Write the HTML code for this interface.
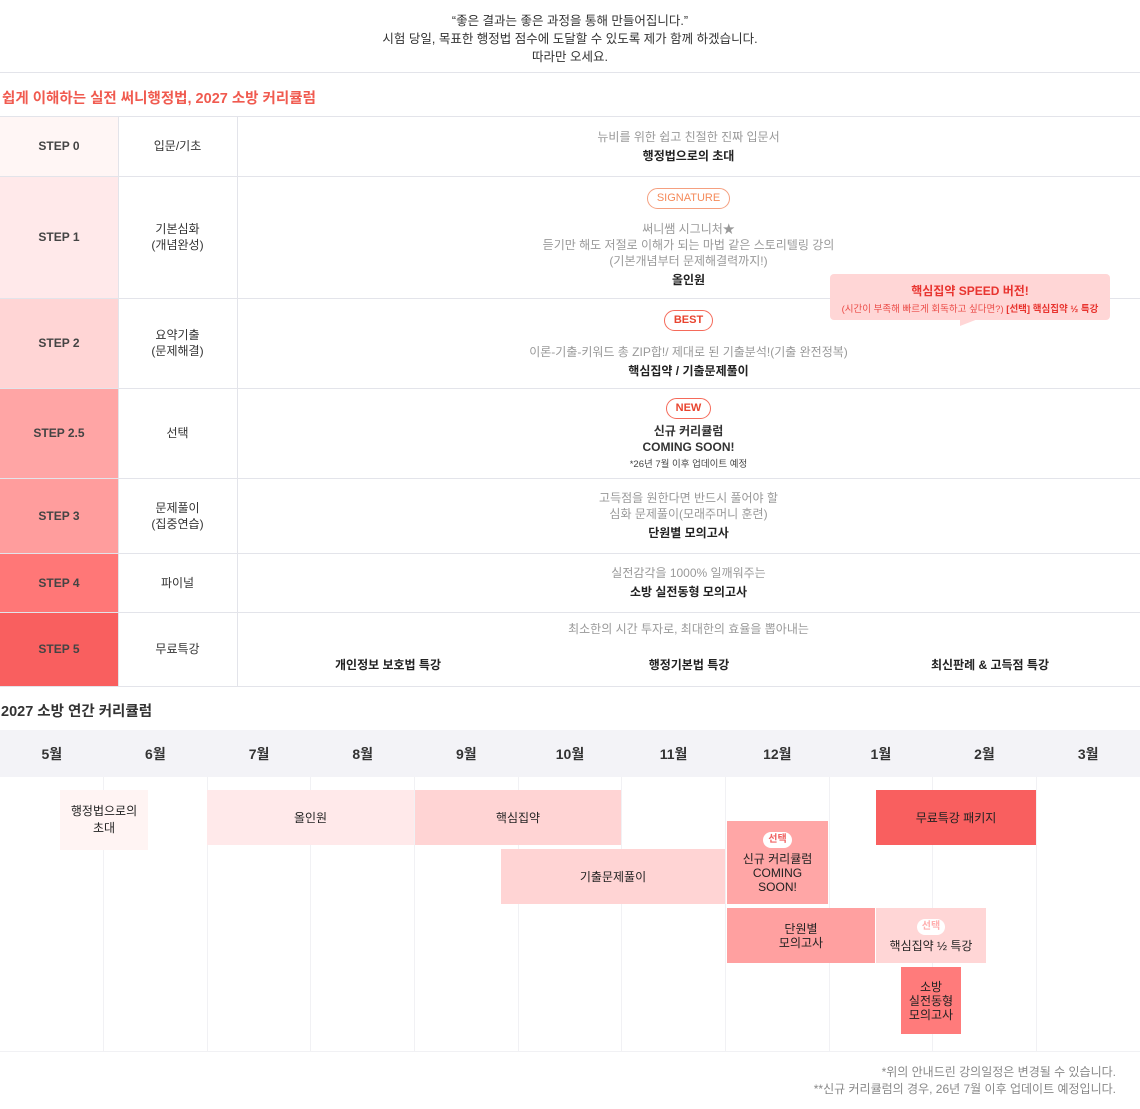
<!DOCTYPE html>
<html><head><meta charset="utf-8"><style>
*{margin:0;padding:0;box-sizing:border-box}
body{width:1140px;height:1109px;background:#fff;font-family:"Liberation Sans","Noto Sans CJK KR",sans-serif;position:relative;overflow:hidden;color:#222}
.a{position:absolute}
.c{text-align:center}
.hl{position:absolute;left:0;width:1140px;height:1px;background:#e3e4ea}
.vl{position:absolute;width:1px;background:#e3e4ea}
.step{position:absolute;left:0;width:118px;display:flex;align-items:center;justify-content:center;font-size:12px;font-weight:bold;color:#444}
.nm{position:absolute;left:118px;width:119px;display:flex;align-items:center;justify-content:center;font-size:12px;text-align:center;line-height:16px;color:#333}
.ct{position:absolute;left:237px;width:903px;text-align:center;font-size:12px;line-height:16px}
.g{color:#999}
.b{font-weight:bold;color:#222;display:block;margin-top:3px}
.badge{display:inline-block;border:1px solid #f56a5a;border-radius:11px;color:#e8442f;font-size:11px;font-weight:bold;padding:0 9px;line-height:19px;margin-bottom:10px}
.bar{position:absolute;display:flex;flex-direction:column;align-items:center;justify-content:center;text-align:center;font-size:12px;line-height:14px;color:#222}
.pill{display:inline-block;background:#fff;border-radius:9px;color:#f06262;font-size:10px;font-weight:bold;padding:0 5px;line-height:16px;margin-bottom:4px}
.mo{position:absolute;top:730px;height:47px;width:103.6px;display:flex;align-items:center;justify-content:center;font-size:14px;font-weight:bold;color:#333}
</style></head><body>
<div class="a c" style="left:0;top:12px;width:1140px;font-size:12.5px;line-height:18px;color:#333">“좋은 결과는 좋은 과정을 통해 만들어집니다.”<br>시험 당일, 목표한 행정법 점수에 도달할 수 있도록 제가 함께 하겠습니다.<br>따라만 오세요.</div>
<div class="hl" style="top:72px"></div>
<div class="a" style="left:2px;top:87px;font-size:14.5px;font-weight:bold;color:#f05a4f">쉽게 이해하는 실전 써니행정법, 2027 소방 커리큘럼</div>

<div class="step" style="top:116px;height:60px;background:#fff6f5">STEP 0</div>
<div class="step" style="top:176px;height:122px;background:#ffe9ea">STEP 1</div>
<div class="step" style="top:298px;height:90px;background:#ffd5d5">STEP 2</div>
<div class="step" style="top:388px;height:90px;background:#ffa5a5">STEP 2.5</div>
<div class="step" style="top:478px;height:75px;background:#ff9d9d">STEP 3</div>
<div class="step" style="top:553px;height:59px;background:#ff7777">STEP 4</div>
<div class="step" style="top:612px;height:74px;background:#f95f5f">STEP 5</div>

<div class="nm" style="top:116px;height:60px">입문/기초</div>
<div class="nm" style="top:176px;height:122px">기본심화<br>(개념완성)</div>
<div class="nm" style="top:298px;height:90px">요약기출<br>(문제해결)</div>
<div class="nm" style="top:388px;height:90px">선택</div>
<div class="nm" style="top:478px;height:75px">문제풀이<br>(집중연습)</div>
<div class="nm" style="top:553px;height:59px">파이널</div>
<div class="nm" style="top:612px;height:74px">무료특강</div>

<div class="hl" style="top:116px"></div><div class="hl" style="top:176px"></div><div class="hl" style="top:298px"></div><div class="hl" style="top:388px"></div><div class="hl" style="top:478px"></div><div class="hl" style="top:553px"></div><div class="hl" style="top:612px"></div><div class="hl" style="top:686px"></div>
<div class="vl" style="left:118px;top:116px;height:570px"></div>
<div class="vl" style="left:237px;top:116px;height:570px"></div>

<div class="ct" style="top:129px"><span class="g">뉴비를 위한 쉽고 친절한 진짜 입문서</span><span class="b">행정법으로의 초대</span></div>
<div class="ct" style="top:188px"><span class="badge" style="font-weight:normal;color:#f58a5a;border-color:#f5a080;margin-bottom:12px">SIGNATURE</span><br><span class="g">써니쌤 시그니처★<br>듣기만 해도 저절로 이해가 되는 마법 같은 스토리텔링 강의<br>(기본개념부터 문제해결력까지!)</span><span class="b">올인원</span></div>
<div class="ct" style="top:310px"><span class="badge" style="margin-bottom:13px">BEST</span><br><span class="g">이론-기출-키워드 총 ZIP합!/ 제대로 된 기출분석!(기출 완전정복)</span><span class="b">핵심집약 / 기출문제풀이</span></div>
<div class="ct" style="top:398px"><span class="badge" style="margin-bottom:4px">NEW</span><br><span style="font-weight:bold;color:#333">신규 커리큘럼<br>COMING SOON!</span><br><span style="font-size:9.5px;color:#444">*26년 7월 이후 업데이트 예정</span></div>
<div class="ct" style="top:490px"><span class="g">고득점을 원한다면 반드시 풀어야 할<br>심화 문제풀이(모래주머니 훈련)</span><span class="b">단원별 모의고사</span></div>
<div class="ct" style="top:565px"><span class="g">실전감각을 1000% 일깨워주는</span><span class="b">소방 실전동형 모의고사</span></div>
<div class="ct" style="top:621px"><span class="g">최소한의 시간 투자로, 최대한의 효율을 뽑아내는</span></div>
<div class="a c" style="left:288px;width:200px;top:656px;font-size:12px;font-weight:bold">개인정보 보호법 특강</div>
<div class="a c" style="left:589px;width:200px;top:656px;font-size:12px;font-weight:bold">행정기본법 특강</div>
<div class="a c" style="left:890px;width:200px;top:656px;font-size:12px;font-weight:bold">최신판례 &amp; 고득점 특강</div>

<div class="a" style="left:830px;top:274px;width:280px;height:46px;background:#ffd6d6;border-radius:4px;text-align:center;color:#e8342f">
<div style="font-size:12px;font-weight:bold;margin-top:8px">핵심집약 SPEED 버전!</div>
<div style="font-size:9.5px;margin-top:2px"><span style="opacity:.85">(시간이 부족해 빠르게 회독하고 싶다면?)</span> <b>[선택] 핵심집약 ½ 특강</b></div>
</div>
<div class="a" style="left:960px;top:319px;width:0;height:0;border-top:7px solid #ffd6d6;border-right:18px solid transparent"></div>

<div class="a" style="left:1px;top:700px;font-size:14.5px;font-weight:bold;color:#333">2027 소방 연간 커리큘럼</div>
<div class="a" style="left:0;top:730px;width:1140px;height:47px;background:#f3f3f7"></div>
<div class="mo" style="left:0">5월</div><div class="mo" style="left:103.6px">6월</div><div class="mo" style="left:207.3px">7월</div><div class="mo" style="left:310.9px">8월</div><div class="mo" style="left:414.5px">9월</div><div class="mo" style="left:518.2px">10월</div><div class="mo" style="left:621.8px">11월</div><div class="mo" style="left:725.5px">12월</div><div class="mo" style="left:829.1px">1월</div><div class="mo" style="left:932.7px">2월</div><div class="mo" style="left:1036.4px">3월</div>
<div class="vl" style="left:103px;top:777px;height:274px;background:#f1f1f4"></div>
<div class="vl" style="left:207px;top:777px;height:274px;background:#f1f1f4"></div>
<div class="vl" style="left:310px;top:777px;height:274px;background:#f1f1f4"></div>
<div class="vl" style="left:414px;top:777px;height:274px;background:#f1f1f4"></div>
<div class="vl" style="left:518px;top:777px;height:274px;background:#f1f1f4"></div>
<div class="vl" style="left:621px;top:777px;height:274px;background:#f1f1f4"></div>
<div class="vl" style="left:725px;top:777px;height:274px;background:#f1f1f4"></div>
<div class="vl" style="left:829px;top:777px;height:274px;background:#f1f1f4"></div>
<div class="vl" style="left:932px;top:777px;height:274px;background:#f1f1f4"></div>
<div class="vl" style="left:1036px;top:777px;height:274px;background:#f1f1f4"></div>
<div class="hl" style="top:1051px;background:#f1f1f4"></div>

<div class="bar" style="left:60px;top:790px;width:88px;height:60px;background:#fff4f3;line-height:17px">행정법으로의<br>초대</div>
<div class="bar" style="left:207px;top:790px;width:207px;height:55px;background:#ffe9ea">올인원</div>
<div class="bar" style="left:415px;top:790px;width:206px;height:55px;background:#ffd4d4">핵심집약</div>
<div class="bar" style="left:501px;top:849px;width:224px;height:55px;background:#ffd4d4">기출문제풀이</div>
<div class="bar" style="left:727px;top:821px;width:101px;height:83px;background:#ffa6a6"><span class="pill">선택</span>신규 커리큘럼<br>COMING<br>SOON!</div>
<div class="bar" style="left:876px;top:790px;width:160px;height:55px;background:#f95f5f">무료특강 패키지</div>
<div class="bar" style="left:727px;top:908px;width:148px;height:55px;background:#ffa0a0">단원별<br>모의고사</div>
<div class="bar" style="left:876px;top:908px;width:110px;height:55px;background:#ffd6d6"><span class="pill" style="color:#ffb0b0">선택</span>핵심집약 ½ 특강</div>
<div class="bar" style="left:901px;top:967px;width:60px;height:67px;background:#ff7b7b">소방<br>실전동형<br>모의고사</div>

<div class="a" style="right:24px;top:1064px;text-align:right;font-size:12px;line-height:17px;color:#888">*위의 안내드린 강의일정은 변경될 수 있습니다.<br>**신규 커리큘럼의 경우, 26년 7월 이후 업데이트 예정입니다.</div>
</body></html>
